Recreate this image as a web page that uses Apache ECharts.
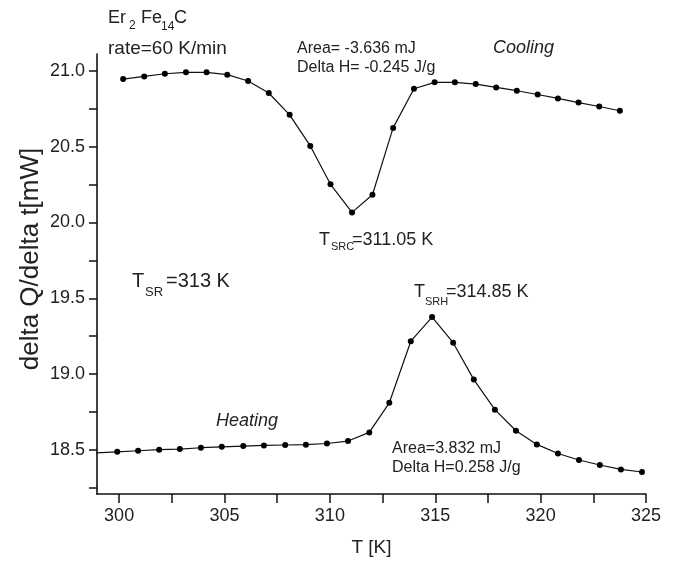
<!DOCTYPE html>
<html>
<head>
<meta charset="utf-8">
<script src="https://cdn.jsdelivr.net/npm/echarts@6.0.0/dist/echarts.min.js"></script>
<style>
  html, body { margin: 0; padding: 0; background: #fff; }
  #chart { width: 680px; height: 562px; }
</style>
</head>
<body>
<div id="chart"></div>
<script>
// cooling branch
var coolT = [300.19, 301.19, 302.17, 303.17, 304.15, 305.13, 306.12, 307.10, 308.09, 309.07, 310.03, 311.05,
  312.02, 313.00, 313.99, 314.97, 315.93, 316.92, 317.89, 318.87, 319.86, 320.82, 321.80, 322.78, 323.76];
var coolQ = [20.945, 20.962, 20.980, 20.989, 20.989, 20.974, 20.932, 20.853, 20.709, 20.504, 20.251, 20.066,
  20.182, 20.623, 20.881, 20.923, 20.923, 20.912, 20.890, 20.868, 20.843, 20.817, 20.790, 20.764, 20.736];

// heating branch (first point lies left of the axis and is clipped)
var heatT = [298.5, 299.91, 300.90, 301.90, 302.88, 303.88, 304.87, 305.89, 306.87, 307.88, 308.86, 309.86,
  310.86, 311.87, 312.82, 313.84, 314.85, 315.85, 316.83, 317.83, 318.83, 319.82, 320.82, 321.82, 322.81,
  323.81, 324.81];
var heatQ = [18.478, 18.488, 18.495, 18.502, 18.506, 18.515, 18.521, 18.526, 18.530, 18.533, 18.535, 18.543,
  18.559, 18.616, 18.811, 19.217, 19.376, 19.207, 18.964, 18.766, 18.627, 18.537, 18.477, 18.434, 18.401,
  18.372, 18.355];

var xLabels = [300, 305, 310, 315, 320, 325];
var xTicks = [300, 302.5, 305, 307.5, 310, 312.5, 315, 317.5, 320, 322.5, 325];
var yLabels = [18.5, 19.0, 19.5, 20.0, 20.5, 21.0];
var yTicks = [18.25, 18.5, 18.75, 19.0, 19.25, 19.5, 19.75, 20.0, 20.25, 20.5, 20.75, 21.0];

var FONT = 'Liberation Sans, Arial, sans-serif';
var INK = '#222';

function pairs(xs, ys) {
  return xs.map(function (x, i) { return [x, ys[i]]; });
}

function txt(x, y, s, size, italic) {
  return {
    type: 'text', x: x, y: y, silent: true,
    style: {
      text: s, fill: INK,
      font: (italic ? 'italic ' : '') + size + 'px ' + FONT,
      textVerticalAlign: 'middle'
    }
  };
}

var chart = echarts.init(document.getElementById('chart'));
chart.setOption({
  animation: false,
  backgroundColor: '#fff',
  grid: { left: 97, right: 34, top: 54, bottom: 68, outerBoundsMode: 'none' },
  xAxis: {
    type: 'value', min: 298.95, max: 325,
    name: 'T [K]', nameLocation: 'middle', nameGap: 44,
    nameTextStyle: { fontSize: 19, color: INK, fontFamily: FONT },
    axisLine: { show: true, lineStyle: { color: '#111', width: 1.6 } },
    axisTick: { show: true, length: 9, customValues: xTicks, lineStyle: { color: '#111', width: 1.5 } },
    axisLabel: { customValues: xLabels, fontSize: 18, color: INK, fontFamily: FONT, margin: 13 },
    splitLine: { show: false }
  },
  yAxis: {
    type: 'value', min: 18.21, max: 21.11,
    axisLine: { show: true, lineStyle: { color: '#111', width: 1.6 } },
    axisTick: { show: true, length: 8, customValues: yTicks, lineStyle: { color: '#111', width: 1.5 } },
    axisLabel: {
      customValues: yLabels, fontSize: 18, color: INK, fontFamily: FONT, margin: 12,
      formatter: function (v) { return v.toFixed(1); }
    },
    splitLine: { show: false }
  },
  series: [
    {
      name: 'Cooling', type: 'line', data: pairs(coolT, coolQ),
      symbol: 'circle', symbolSize: 6, showAllSymbol: true,
      itemStyle: { color: '#000' }, lineStyle: { color: '#111', width: 1.2 }
    },
    {
      name: 'Heating', type: 'line', data: pairs(heatT, heatQ), clip: true,
      symbol: 'circle', symbolSize: 6, showAllSymbol: true,
      itemStyle: { color: '#000' }, lineStyle: { color: '#111', width: 1.2 }
    }
  ],
  graphic: [
    {
      type: 'text', x: 31, y: 259, rotation: Math.PI / 2, silent: true,
      style: {
        text: 'delta Q/delta t[mW]', fill: INK, font: '26px ' + FONT,
        textAlign: 'center', textVerticalAlign: 'middle'
      }
    },
    txt(108, 18, 'Er', 18), txt(129, 26, '2', 12),
    txt(141, 18, 'Fe', 18), txt(161, 27, '14', 12), txt(174, 18, 'C', 18),
    txt(108, 49, 'rate=60 K/min', 19),
    txt(297, 49, 'Area= -3.636 mJ', 16),
    txt(297, 68, 'Delta H= -0.245 J/g', 16),
    txt(493, 48, 'Cooling', 18, true),
    txt(319, 240, 'T', 18), txt(331, 247, 'SRC', 11), txt(352, 240, '=311.05 K', 18),
    txt(132, 281, 'T', 20), txt(145, 292, 'SR', 13), txt(166, 281, '=313 K', 20),
    txt(414, 292, 'T', 18), txt(425, 302, 'SRH', 11), txt(446, 292, '=314.85 K', 18),
    txt(216, 421, 'Heating', 18, true),
    txt(392, 449, 'Area=3.832 mJ', 16),
    txt(392, 468, 'Delta H=0.258 J/g', 16)
  ]
});
</script>
</body>
</html>
